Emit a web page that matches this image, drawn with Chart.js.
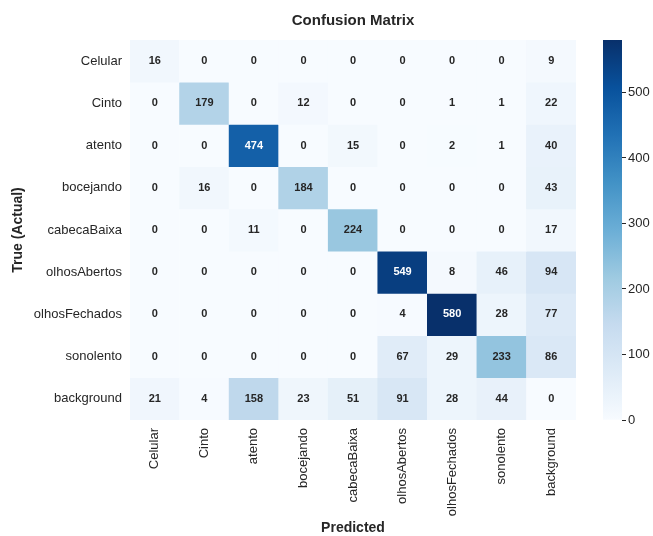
<!DOCTYPE html>
<html>
<head>
<meta charset="utf-8">
<title>Confusion Matrix</title>
<script src="https://cdn.jsdelivr.net/npm/chart.js@4.4.1/dist/chart.umd.min.js"></script>
<style>
  html, body { margin: 0; padding: 0; background: #ffffff; }
  #wrap { position: relative; width: 653px; height: 536px; }
  #matrixChart { position: absolute; left: 0; top: 0; }
  #colorbarChart { position: absolute; left: 590px; top: 0; }
</style>
</head>
<body>
<div id="wrap">
  <canvas id="matrixChart" width="653" height="536"></canvas>
  <canvas id="colorbarChart" width="63" height="536"></canvas>
</div>
<script>
// Clases (mismo orden en filas = real y columnas = predicho)
const predLabels = ['Celular', 'Cinto', 'atento', 'bocejando', 'cabecaBaixa', 'olhosAbertos', 'olhosFechados', 'sonolento', 'background'];
const trueLabels = ['Celular', 'Cinto', 'atento', 'bocejando', 'cabecaBaixa', 'olhosAbertos', 'olhosFechados', 'sonolento', 'background'];

// Filas de la matriz de confusión (una por clase real)
const rowCelular      = [16, 0, 0, 0, 0, 0, 0, 0, 9];
const rowCinto        = [0, 179, 0, 12, 0, 0, 1, 1, 22];
const rowAtento       = [0, 0, 474, 0, 15, 0, 2, 1, 40];
const rowBocejando    = [0, 16, 0, 184, 0, 0, 0, 0, 43];
const rowCabecaBaixa  = [0, 0, 11, 0, 224, 0, 0, 0, 17];
const rowOlhosAbertos = [0, 0, 0, 0, 0, 549, 8, 46, 94];
const rowOlhosFechados = [0, 0, 0, 0, 0, 4, 580, 28, 77];
const rowSonolento    = [0, 0, 0, 0, 0, 67, 29, 233, 86];
const rowBackground   = [21, 4, 158, 23, 51, 91, 28, 44, 0];

const matrix = [rowCelular, rowCinto, rowAtento, rowBocejando, rowCabecaBaixa,
                rowOlhosAbertos, rowOlhosFechados, rowSonolento, rowBackground];

const colorbarTicks = [0, 100, 200, 300, 400, 500];

(function() {
    const FONT = '"Liberation Sans", Arial, Helvetica, sans-serif';
    const DARK = '#262626';
    Chart.defaults.font.family = FONT;
    Chart.defaults.color = DARK;

    const vmin = 0;
    const vmax = Math.max(...matrix.map(r => Math.max(...r)));

    // Paleta "Blues" (matplotlib)
    const blues = ['#f7fbff', '#deebf7', '#c6dbef', '#9ecae1', '#6baed6', '#4292c6', '#2171b5', '#08519c', '#08306b'];
    const hexToRgb = h => [1, 3, 5].map(i => parseInt(h.substr(i, 2), 16));
    const bluesRgb = blues.map(hexToRgb);

    function colorFor(v) {
        let t = (v - vmin) / (vmax - vmin);
        t = Math.min(1, Math.max(0, t));
        const pos = t * (bluesRgb.length - 1);
        const i = Math.min(bluesRgb.length - 2, Math.floor(pos));
        const f = pos - i;
        const a = bluesRgb[i], b = bluesRgb[i + 1];
        return a.map((c, k) => Math.round(c + (b[k] - c) * f));
    }
    const rgbStr = c => 'rgb(' + c.join(',') + ')';

    // Luminancia relativa para decidir el color del texto
    function luminance(rgb) {
        const lin = rgb.map(c => {
            c = c / 255;
            return c <= 0.03928 ? c / 12.92 : Math.pow((c + 0.055) / 1.055, 2.4);
        });
        return 0.2126 * lin[0] + 0.7152 * lin[1] + 0.0722 * lin[2];
    }

    // Un dataset por fila real; cada barra flotante ocupa [fila, fila+1]
    const datasets = trueLabels.map((name, r) => ({
        label: name,
        data: predLabels.map(() => [r, r + 1]),
        backgroundColor: matrix[r].map(v => rgbStr(colorFor(v))),
        borderWidth: 0,
        barPercentage: 1,
        categoryPercentage: 1,
        grouped: false
    }));

    // Texto con el valor de cada celda
    const cellLabels = {
        id: 'cellLabels',
        afterDatasetsDraw(chart) {
            const ctx = chart.ctx;
            ctx.save();
            ctx.font = 'bold 11px ' + FONT;
            ctx.textAlign = 'center';
            ctx.textBaseline = 'middle';
            chart.data.datasets.forEach((ds, r) => {
                chart.getDatasetMeta(r).data.forEach((el, c) => {
                    const v = matrix[r][c];
                    ctx.fillStyle = luminance(colorFor(v)) > 0.408 ? DARK : '#ffffff';
                    ctx.fillText(String(v), el.x, (el.y + el.base) / 2);
                });
            });
            ctx.restore();
        }
    };

    new Chart(document.getElementById('matrixChart'), {
        type: 'bar',
        data: { labels: predLabels, datasets: datasets },
        options: {
            responsive: false,
            animation: false,
            layout: { padding: { left: 0, right: 77, top: 0, bottom: 0 } },
            plugins: {
                legend: { display: false },
                tooltip: { enabled: false },
                title: {
                    display: true,
                    text: 'Confusion Matrix',
                    fullSize: false,
                    color: DARK,
                    font: { size: 15, weight: 'bold' },
                    padding: { top: 12, bottom: 10 }
                }
            },
            scales: {
                x: {
                    stacked: true,
                    grid: { display: false },
                    border: { display: false },
                    ticks: {
                        maxRotation: 90, minRotation: 90,
                        padding: 0,
                        color: DARK,
                        font: { size: 13 }
                    },
                    title: {
                        display: true,
                        text: 'Predicted',
                        color: DARK,
                        font: { size: 14, weight: 'bold' },
                        padding: { top: 0, bottom: -1 }
                    },
                    afterFit(scale) { scale.height = 116; }
                },
                y: {
                    min: 0,
                    max: trueLabels.length,
                    reverse: true,
                    grid: { display: false },
                    border: { display: false },
                    afterBuildTicks(scale) {
                        scale.ticks = trueLabels.map((_, i) => ({ value: i + 0.5 }));
                    },
                    ticks: {
                        padding: 0,
                        color: DARK,
                        font: { size: 13 },
                        callback: (value, index) => trueLabels[index]
                    },
                    title: {
                        display: true,
                        text: 'True (Actual)',
                        color: DARK,
                        font: { size: 14, weight: 'bold' },
                        padding: { top: 10, bottom: 0 }
                    },
                    afterFit(scale) { scale.width = 130; }
                }
            }
        },
        plugins: [cellLabels]
    });

    // Barra de color
    new Chart(document.getElementById('colorbarChart'), {
        type: 'bar',
        data: {
            labels: [''],
            datasets: [{
                data: [[vmin, vmax]],
                borderWidth: 0,
                barPercentage: 1,
                categoryPercentage: 1,
                backgroundColor(context) {
                    const area = context.chart.chartArea;
                    if (!area) return blues[4];
                    const g = context.chart.ctx.createLinearGradient(0, area.bottom, 0, area.top);
                    blues.forEach((c, i) => g.addColorStop(i / (blues.length - 1), c));
                    return g;
                }
            }]
        },
        options: {
            responsive: false,
            animation: false,
            layout: { padding: { left: 13, right: 0, top: 40, bottom: 116 } },
            plugins: { legend: { display: false }, tooltip: { enabled: false } },
            scales: {
                x: { display: false },
                y: {
                    position: 'right',
                    min: vmin,
                    max: vmax,
                    afterBuildTicks(scale) {
                        scale.ticks = colorbarTicks.map(v => ({ value: v }));
                    },
                    grid: { drawOnChartArea: false, drawTicks: true, tickLength: 4, color: DARK },
                    border: { display: false },
                    ticks: { padding: 2, color: DARK, font: { size: 13 } },
                    afterFit(scale) { scale.width = 31; }
                }
            }
        }
    });
})();
</script>
</body>
</html>
